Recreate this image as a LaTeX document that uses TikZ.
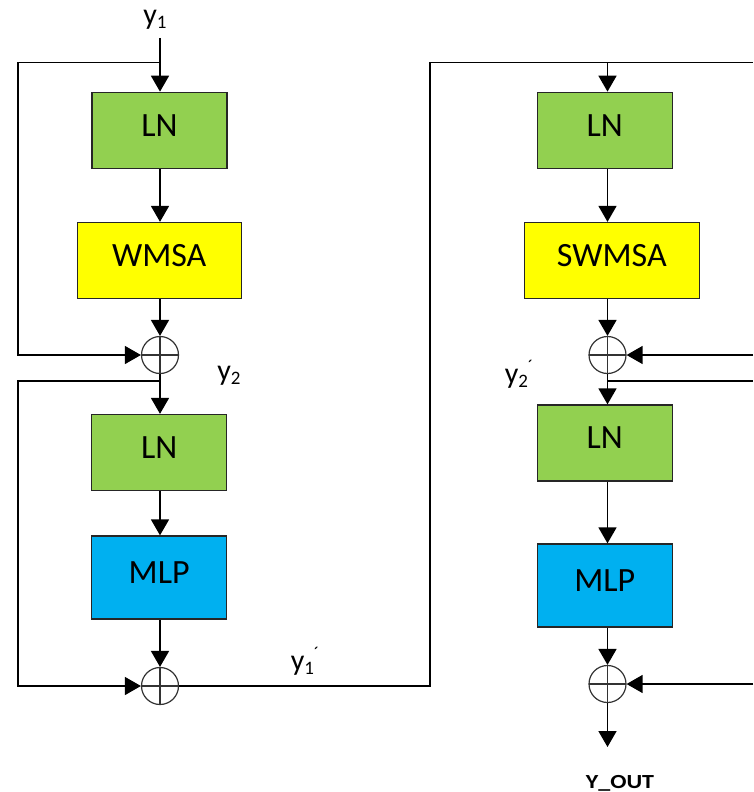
\documentclass[tikz,border=0pt]{standalone}
\usepackage{fontspec}
\setmainfont{Carlito}
\usetikzlibrary{arrows.meta}

\definecolor{lngreen}{HTML}{92D050}
\definecolor{msayellow}{HTML}{FFFF00}
\definecolor{mlpblue}{HTML}{00B0F0}

\newcommand{\boxfont}{\fontsize{34}{36}\selectfont}
\newcommand{\lblfont}{\fontsize{30}{32}\selectfont}
\newcommand{\subidx}[1]{\raisebox{-4pt}{\fontsize{19}{19}\selectfont #1}}
\newcommand{\primemark}{\raisebox{11pt}{\fontsize{18}{18}\selectfont ´}}

\begin{document}
\begin{tikzpicture}[x=1pt,y=-1pt,
  blk/.style={draw=black!85, line width=1.3pt, inner sep=0pt, text depth=10pt, font=\boxfont},
  lnbox/.style={blk, fill=lngreen, minimum width=135pt, minimum height=76pt},
  msabox/.style={blk, fill=msayellow, minimum height=76pt},
  mlpbox/.style={blk, fill=mlpblue, minimum width=135pt, minimum height=83pt},
  sumnode/.style={circle, draw=black!80, line width=1.2pt, minimum size=37pt, inner sep=0pt,
    path picture={\draw[line width=1.2pt]
      (path picture bounding box.north) -- (path picture bounding box.south)
      (path picture bounding box.west) -- (path picture bounding box.east);}},
  tip/.style={-{Triangle[width=18pt,length=16pt]}},
  conn/.style={line width=1.7pt, tip},
  fb/.style={line width=1.3pt},
  lbl/.style={font=\lblfont, inner sep=0pt}]

\useasboundingbox (0,0) rectangle (753,792);

% ---- first block: window attention ----
\coordinate (in1) at (160,38);
\node[lbl] (ylab1) at (155,20) {y\subidx{1}};
\node[lnbox] (ln1) at (159.5,130.3) {LN};
\node[msabox, minimum width=164pt] (wmsa) at (159.2,260.5) {WMSA};
\node[sumnode] (s1) at (160,355) {};
\node[lnbox] (ln2) at (159.2,452.5) {LN};
\node[mlpbox] (mlp1) at (159.2,577.5) {MLP};
\node[sumnode] (s2) at (160,686) {};

\coordinate (tap1) at (160,62.7);
\coordinate (tap2) at (160,381);
\coordinate (left1) at (18,62.7);
\coordinate (left2) at (18,381);

\draw[conn] (in1) -- (ln1.north -| in1);
\draw[conn] (ln1.south -| in1) -- (wmsa.north -| in1);
\draw[conn] (wmsa.south -| in1) -- (s1.north);
\draw[conn] (s1.south) -- (ln2.north -| s1);
\draw[conn] (ln2.south -| s1) -- (mlp1.north -| s1);
\draw[conn] (mlp1.south -| s1) -- (s2.north);

\draw[fb, tip] (tap1) -- (left1) |- (s1.west);
\draw[fb, tip] (tap2) -- (left2) |- (s2.west);

\node[lbl] (ylab2) at (229,376) {y\subidx{2}};
\node[lbl] (ylab1p) at (305,661) {y\subidx{1}\primemark};

% ---- second block: shifted window attention ----
\coordinate (turn1) at (430,686);
\coordinate (turn2) at (430,62.7);
\coordinate (tap3) at (607.5,62.7);
\coordinate (edge1) at (753,62.7);
\node[lnbox] (ln3) at (604.8,130.3) {LN};
\node[msabox, minimum width=175pt] (swmsa) at (611.8,260.5) {SWMSA};
\node[sumnode] (s3) at (607.5,355) {};
\node[lnbox] (ln4) at (604.8,443) {LN};
\node[mlpbox] (mlp2) at (604.8,585.5) {MLP};
\node[sumnode] (s4) at (607.5,684) {};
\coordinate (out) at (607.5,747);

\coordinate (tap4) at (607.5,381);
\coordinate (edge2) at (753,355);
\coordinate (edge3) at (753,381);
\coordinate (edge4) at (753,684);

\draw[fb] (s2.east) -- (turn1) -- (turn2) -- (edge1);
\draw[conn] (tap3) -- (ln3.north -| tap3);
\draw[conn] (ln3.south -| tap3) -- (swmsa.north -| tap3);
\draw[conn] (swmsa.south -| tap3) -- (s3.north);
\draw[conn] (s3.south) -- (ln4.north -| s3);
\draw[conn] (ln4.south -| s3) -- (mlp2.north -| s3);
\draw[conn] (mlp2.south -| s3) -- (s4.north);
\draw[conn] (s4.south) -- (out);

\draw[fb, tip] (edge2) -- (s3.east);
\draw[fb] (tap4) -- (edge3);
\draw[fb, tip] (edge4) -- (s4.east);

\node[lbl] (ylab2p) at (519,374) {y\subidx{2}\primemark};
\node[font=\fontsize{20}{21}\selectfont\bfseries, inner sep=0pt, xscale=1.2] (yout) at (620,783) {Y\_OUT};

\end{tikzpicture}
\end{document}
